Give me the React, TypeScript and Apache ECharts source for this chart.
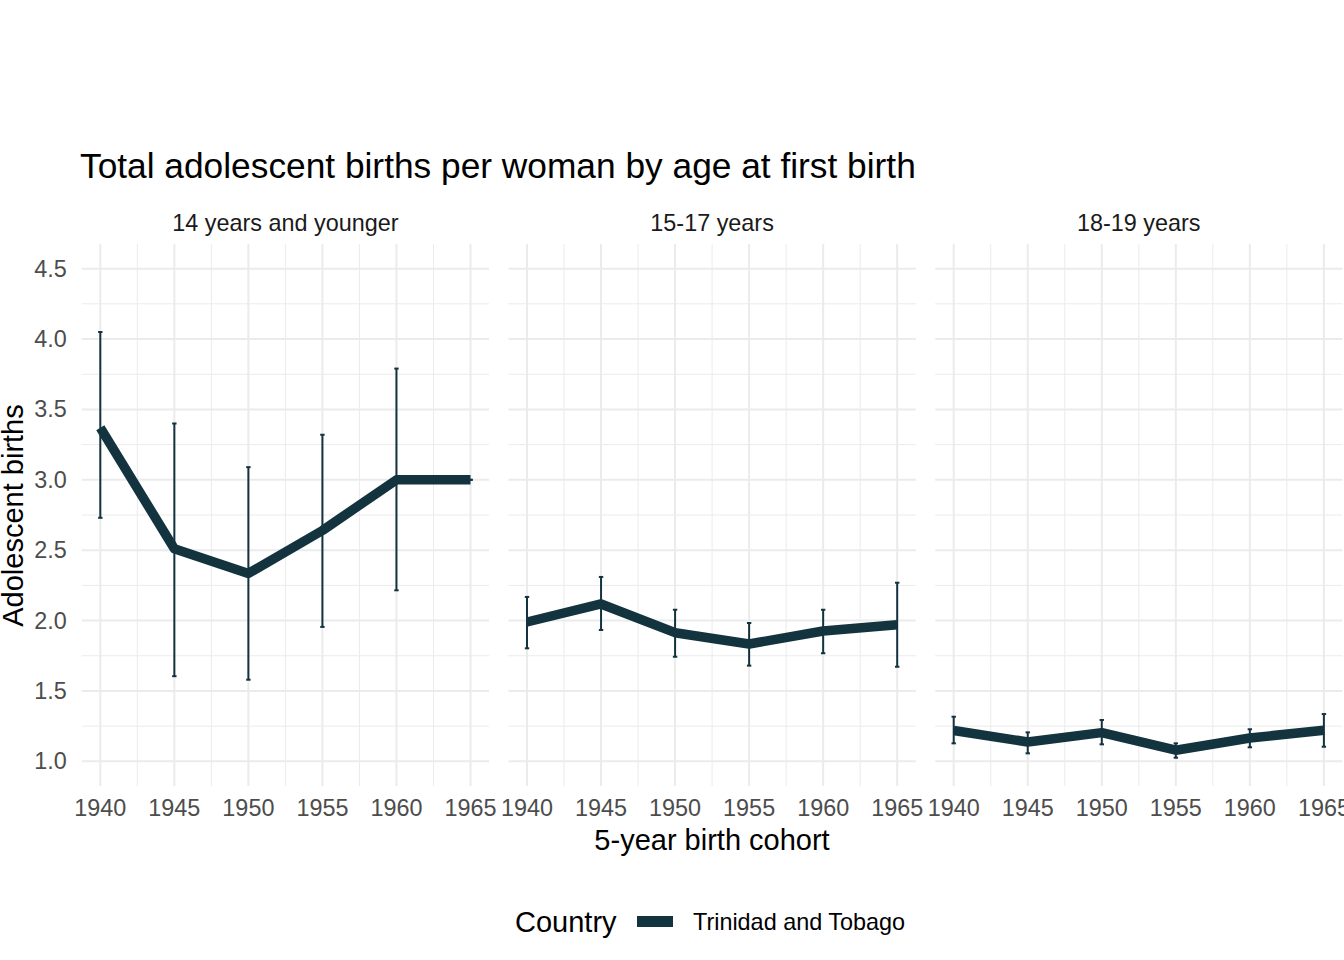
import React, { useEffect, useRef } from "react";
import * as echarts from "echarts";

const years = [1940, 1945, 1950, 1955, 1960, 1965];
const panelNames = ["14 years and younger", "15-17 years", "18-19 years"];

const est14 = [3.37, 2.51, 2.335, 2.64, 3.0, 3.0];
const low14 = [2.73, 1.605, 1.58, 1.955, 2.215, 3.0];
const high14 = [4.05, 3.4, 3.09, 3.32, 3.79, 3.0];

const est1517 = [1.99, 2.118, 1.914, 1.834, 1.926, 1.971];
const low1517 = [1.803, 1.933, 1.743, 1.68, 1.768, 1.672];
const high1517 = [2.168, 2.31, 2.077, 1.983, 2.077, 2.269];

const est1819 = [1.219, 1.138, 1.204, 1.079, 1.166, 1.221];
const low1819 = [1.128, 1.057, 1.121, 1.026, 1.1, 1.104];
const high1819 = [1.317, 1.206, 1.294, 1.128, 1.228, 1.336];

const yTicks = [1.0, 1.5, 2.0, 2.5, 3.0, 3.5, 4.0, 4.5];
const yMinor = [1.25, 1.75, 2.25, 2.75, 3.25, 3.75, 4.25];
const xMinor = [1942.5, 1947.5, 1952.5, 1957.5, 1962.5];

const countryName = "Trinidad and Tobago";

const COLOR = "#13343f";
const GRID_COLOR = "#ebebeb";
const FONT = "'Liberation Sans', Arial, Helvetica, sans-serif";

const panelData = [
  { est: est14, low: low14, high: high14 },
  { est: est1517, low: low1517, high: high1517 },
  { est: est1819, low: low1819, high: high1819 },
];

const GRID_LEFTS = [81.8, 508.5, 935.2];
const GRID_W = 407.2;
const GRID_TOP = 244;
const GRID_H = 542;

export default function App() {
  const ref = useRef<HTMLDivElement>(null);

  useEffect(() => {
    if (!ref.current) return;
    const chart = echarts.init(ref.current, null, { renderer: "svg" });

    const grids: any[] = [];
    const xAxes: any[] = [];
    const yAxes: any[] = [];
    const series: any[] = [];

    const gridLineData: any[] = [];
    yTicks.forEach((v) => gridLineData.push([v, 0, 1]));
    yMinor.forEach((v) => gridLineData.push([v, 0, 0]));
    years.forEach((v) => gridLineData.push([v, 1, 1]));
    xMinor.forEach((v) => gridLineData.push([v, 1, 0]));

    panelData.forEach((p, i) => {
      grids.push({
        left: GRID_LEFTS[i],
        top: GRID_TOP,
        width: GRID_W,
        height: GRID_H,
        containLabel: false,
        outerBoundsMode: "none",
      });
      xAxes.push({
        type: "value",
        gridIndex: i,
        min: 1938.75,
        max: 1966.25,
        axisLine: { show: false },
        axisTick: { show: false },
        splitLine: { show: false },
        axisLabel: {
          customValues: years,
          formatter: (v: number) => String(v),
          color: "#4d4d4d",
          fontSize: 23.4,
          fontFamily: FONT,
          margin: 10,
          hideOverlap: false,
        },
      });
      yAxes.push({
        type: "value",
        gridIndex: i,
        min: 0.825,
        max: 4.675,
        axisLine: { show: false },
        axisTick: { show: false },
        splitLine: { show: false },
        axisLabel: {
          show: i === 0,
          customValues: yTicks,
          formatter: (v: number) => v.toFixed(1),
          color: "#4d4d4d",
          fontSize: 23.4,
          fontFamily: FONT,
          margin: 15,
        },
      });

      series.push({
        type: "custom",
        xAxisIndex: i,
        yAxisIndex: i,
        silent: true,
        z: 0,
        data: gridLineData,
        renderItem: (params: any, api: any) => {
          const v = api.value(0);
          const kind = api.value(1);
          const major = api.value(2);
          const cs = params.coordSys;
          let shape;
          if (kind === 0) {
            const y = api.coord([1950, v])[1];
            shape = { x1: cs.x, y1: y, x2: cs.x + cs.width, y2: y };
          } else {
            const x = api.coord([v, 2])[0];
            shape = { x1: x, y1: cs.y, x2: x, y2: cs.y + cs.height };
          }
          return {
            type: "line",
            shape,
            style: { stroke: GRID_COLOR, lineWidth: major ? 2 : 1 },
          };
        },
      });

      series.push({
        type: "custom",
        xAxisIndex: i,
        yAxisIndex: i,
        silent: true,
        z: 2,
        encode: { x: 0, y: [1, 2] },
        data: years.map((yr, k) => [yr, p.low[k], p.high[k]]),
        renderItem: (params: any, api: any) => {
          const x = api.value(0);
          const lo = api.value(1);
          const hi = api.value(2);
          const pLo = api.coord([x, lo]);
          const pHi = api.coord([x, hi]);
          const w = 2.2;
          const style = { stroke: COLOR, lineWidth: 2 };
          return {
            type: "group",
            children: [
              { type: "line", shape: { x1: pLo[0], y1: pLo[1], x2: pHi[0], y2: pHi[1] }, style },
              { type: "line", shape: { x1: pLo[0] - w, y1: pLo[1], x2: pLo[0] + w, y2: pLo[1] }, style },
              { type: "line", shape: { x1: pHi[0] - w, y1: pHi[1], x2: pHi[0] + w, y2: pHi[1] }, style },
            ],
          };
        },
      });

      series.push({
        type: "line",
        name: countryName,
        xAxisIndex: i,
        yAxisIndex: i,
        z: 3,
        symbol: "none",
        silent: true,
        data: years.map((yr, k) => [yr, p.est[k]]),
        lineStyle: { width: 9.5, color: COLOR, cap: "butt", join: "round" },
        itemStyle: { color: COLOR },
      });
    });

    const graphics: any[] = [
      {
        type: "text",
        x: 80,
        y: 165,
        style: {
          text: "Total adolescent births per woman by age at first birth",
          fontSize: 35.3,
          fontFamily: FONT,
          fill: "#000",
          align: "left",
          verticalAlign: "middle",
          textAlign: "left",
          textVerticalAlign: "middle",
        },
      },
      {
        type: "text",
        x: 712,
        y: 840,
        style: {
          text: "5-year birth cohort",
          fontSize: 29,
          fontFamily: FONT,
          fill: "#000",
          align: "center",
          verticalAlign: "middle",
          textAlign: "center",
          textVerticalAlign: "middle",
        },
      },
      {
        type: "text",
        x: 13,
        y: 515.5,
        rotation: Math.PI / 2,
        style: {
          text: "Adolescent births",
          fontSize: 29,
          fontFamily: FONT,
          fill: "#000",
          align: "center",
          verticalAlign: "middle",
          textAlign: "center",
          textVerticalAlign: "middle",
        },
      },
      {
        type: "text",
        x: 515,
        y: 922,
        style: {
          text: "Country",
          fontSize: 29,
          fontFamily: FONT,
          fill: "#000",
          align: "left",
          verticalAlign: "middle",
          textAlign: "left",
          textVerticalAlign: "middle",
        },
      },
    ];
    panelNames.forEach((name, i) => {
      graphics.push({
        type: "text",
        x: GRID_LEFTS[i] + GRID_W / 2,
        y: 223,
        style: {
          text: name,
          fontSize: 23.4,
          fontFamily: FONT,
          fill: "#1a1a1a",
          align: "center",
          verticalAlign: "middle",
          textAlign: "center",
          textVerticalAlign: "middle",
        },
      });
    });

    chart.setOption({
      animation: false,
      backgroundColor: "#ffffff",
      textStyle: { fontFamily: FONT },
      grid: grids,
      xAxis: xAxes,
      yAxis: yAxes,
      legend: {
        data: [{ name: countryName, icon: "rect" }],
        left: 637,
        top: 910,
        padding: 0,
        itemWidth: 36,
        itemHeight: 11,
        selectedMode: false,
        textStyle: { fontSize: 23.4, color: "#000", fontFamily: FONT, padding: [0, 0, 0, 15] },
      },
      graphic: graphics,
      series,
    });

    return () => chart.dispose();
  }, []);

  return (
    <div
      ref={ref}
      style={{ position: "fixed", left: 0, top: 0, width: 1344, height: 960, background: "#fff" }}
    />
  );
}
